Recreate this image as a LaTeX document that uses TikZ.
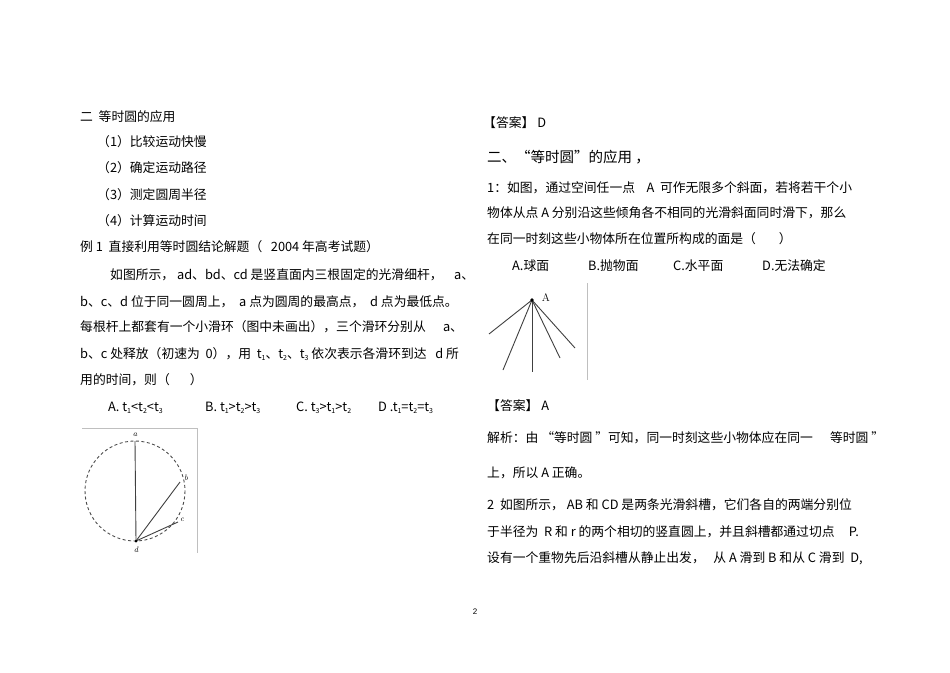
\documentclass[tikz,border=0pt]{standalone}
\usepackage{fontspec}
\setmainfont{Liberation Sans}
\newfontfamily\cjk{Noto Sans CJK SC}
\newcommand{\sbx}[1]{\raisebox{-0.25ex}{\fontsize{7}{8}\selectfont #1}}
\begin{document}
\begin{tikzpicture}[x=1pt,y=-1pt,
  txt/.style={anchor=west,inner sep=0pt,font=\cjk\fontsize{12.8}{14}\selectfont},
  lab/.style={inner sep=0pt,font=\fontfamily{lmr}\itshape\fontsize{8}{9}\selectfont},
  rod/.style={line width=0.9pt,black!75},
  frame/.style={draw=black!25,line width=0.5pt}]
\useasboundingbox (0,0) rectangle (950,672);
\fill[white] (0,0) rectangle (950,672);
% left column
\node[txt] (l1) at (80,117) {二\ \ 等时圆的应用};
\node[txt] (l2) at (97,142) {（1）比较运动快慢};
\node[txt] (l3) at (97,168) {（2）确定运动路径};
\node[txt] (l4) at (97,195) {（3）测定圆周半径};
\node[txt] (l5) at (97,221) {（4）计算运动时间};
\node[txt] (l6) at (80,247) {例 1\ \ 直接利用等时圆结论解题（\ \ \ 2004 年高考试题）};
\node[txt] (l7) at (110,275) {如图所示，\ ad、bd、cd 是竖直面内三根固定的光滑细杆，\ \ \ \ a、};
\node[txt] (l8) at (80,302) {b、c、d 位于同一圆周上，\ \ a 点为圆周的最高点，\ \ d 点为最低点。};
\node[txt] (l9) at (80,327) {每根杆上都套有一个小滑环（图中未画出），三个滑环分别从\ \ \ \ \ \ a、};
\node[txt] (l10) at (80,354) {b、c 处释放（初速为\ \ 0），用\ \ t\sbx{1}、t\sbx{2}、t\sbx{3} 依次表示各滑环到达\ \ \ d 所};
\node[txt] (l11) at (80,380) {用的时间，则（\ \ \ \ \ \ \ ）};
\node[txt] (oA) at (108,408) {A. t\sbx{1}<t\sbx{2}<t\sbx{3}};
\node[txt] (oB) at (205,408) {B. t\sbx{1}>t\sbx{2}>t\sbx{3}};
\node[txt] (oC) at (296,408) {C. t\sbx{3}>t\sbx{1}>t\sbx{2}};
\node[txt] (oD) at (378,408) {D .t\sbx{1}=t\sbx{2}=t\sbx{3}};
% figure 1
\draw[frame] (82,428) -- (197,428) -- (197,553);
\draw[black!70,line width=0.9pt,dash pattern=on 3pt off 2.5pt] (135,491) circle (50);
\coordinate (a) at (135,441);
\coordinate (d) at (136,541);
\coordinate (b) at (180,482);
\coordinate (c) at (178,522);
\draw[rod] (a) -- (d);
\draw[rod] (b) -- (d);
\draw[rod] (c) -- (d);
\fill (d) circle (1.5);
\node[lab] (la) at (135,435) {a};
\node[lab] (lb) at (186,478) {b};
\node[lab] (lc) at (182,520) {c};
\node[lab] (ld) at (136,550) {d};
% right column
\node[txt] (r1) at (483,123) {【答案】 D};
\node[txt,font=\cjk\fontsize{14.5}{16}\selectfont] (r2) at (487,157) {二、“等时圆”的应用 ，};
\node[txt] (r3) at (487,188) {1：如图，通过空间任一点\ \ \ \ A\ \ 可作无限多个斜面，若将若干个小};
\node[txt] (r4) at (487,213) {物体从点 A 分别沿这些倾角各不相同的光滑斜面同时滑下，那么};
\node[txt] (r5) at (487,239) {在同一时刻这些小物体所在位置所构成的面是（\ \ \ \ \ \ \ \ ）};
\node[txt] (r6a) at (512,266) {A.球面};
\node[txt] (r6b) at (588,266) {B.抛物面};
\node[txt] (r6c) at (673,266) {C.水平面};
\node[txt] (r6d) at (762,266) {D.无法确定};
% figure 2
\draw[frame] (587,283) -- (587,380);
\coordinate (A) at (532,300);
\foreach \p in {(489,334),(503,370),(532,372),(560,358),(575,348)}
  \draw[rod] (A) -- \p;
\fill (A) circle (1.8);
\node[inner sep=0pt,font=\fontfamily{lmr}\selectfont\fontsize{11}{12}\selectfont] (lA) at (546,298) {A};
\node[txt] (r7) at (487,406) {【答案】 A};
\node[txt] (r8) at (487,438) {解析：由 “等时圆 ”可知，同一时刻这些小物体应在同一\ \ \ \ \ \ 等时圆 ”};
\node[txt] (r9) at (487,473) {上，所以 A 正确。};
\node[txt] (r10) at (487,505) {2\ \ 如图所示，\ AB 和 CD 是两条光滑斜槽，它们各自的两端分别位};
\node[txt] (r11) at (487,532) {于半径为\ \ R 和 r 的两个相切的竖直圆上，并且斜槽都通过切点\ \ \ \ \ P.};
\node[txt] (r12) at (487,558) {设有一个重物先后沿斜槽从静止出发，\ \ \ 从 A 滑到 B 和从 C 滑到\ \ D,};
\node[inner sep=0pt,font=\fontsize{8}{9}\selectfont] (pg) at (475,612) {2};
\end{tikzpicture}
\end{document}
